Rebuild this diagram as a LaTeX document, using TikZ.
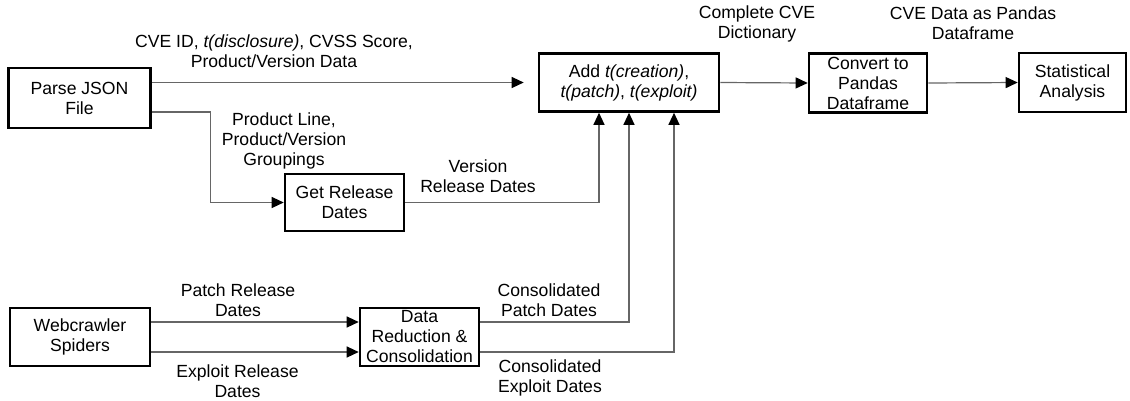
\documentclass[tikz,border=0pt]{standalone}
\usepackage{fontspec}
\setmainfont{Liberation Sans}
\usetikzlibrary{arrows.meta}

\begin{document}
\begin{tikzpicture}[x=1pt,y=-1pt,
    every node/.style={font=\fontsize{17.6}{20}\selectfont,align=center,inner sep=0pt},
    box/.style={rectangle,draw,line width=2.6pt},
    flow/.style={draw=black!60,line width=1.2pt,-{Triangle[length=12pt,width=11pt,color=black]}}]
    \useasboundingbox (0,0) rectangle (1130,400);

    \node (parse) [box,minimum width=142pt,minimum height=60pt] at (79.5,98) {Parse JSON\\File};
    \node (add) [box,minimum width=180pt,minimum height=58pt] at (629,82.5) {Add \textit{t(creation)},\\\textit{t(patch)}, \textit{t(exploit)}};
    \node (conv) [box,minimum width=118pt,minimum height=59pt] at (868,83) {Convert to\\Pandas\\Dataframe};
    \node (stat) [box,minimum width=107pt,minimum height=59pt] at (1072.5,82.5) {Statistical\\Analysis};

    \node (getrel) [box,minimum width=119pt,minimum height=57pt] at (344.5,202.5) {Get Release\\Dates};

    \node (spider) [box,minimum width=140pt,minimum height=58pt] at (80,337) {Webcrawler\\Spiders};
    \node (datared) [box,minimum width=119pt,minimum height=58pt] at (419.5,337) {Data\\Reduction \&\\Consolidation};

    \node (lcve) at (274,51.5) {CVE ID, \textit{t(disclosure)}, CVSS Score,\\Product/Version Data};
    \node (lgroup) at (284,140.5) {Product Line,\\Product/Version\\Groupings};
    \node (lvers) at (478,176) {Version\\Release Dates};
    \node (ldict) at (757,23.5) {Complete CVE\\Dictionary};
    \node (lframe) at (973,23.5) {CVE Data as Pandas\\Dataframe};
    \node (lpatch) at (238,300) {Patch Release\\Dates};
    \node (lexpl) at (237.5,381) {Exploit Release\\Dates};
    \node (lcpatch) at (549,300) {Consolidated\\Patch Dates};
    \node (lcexpl) at (550,378) {Consolidated\\Exploit Dates};

  \draw[flow,shorten >=14pt] (parse.east |- add.west) -- (add.west);
  \draw[flow] ([yshift=-14pt]parse.east) -| ([xshift=-73pt]getrel.west) -- (getrel.west);
  \draw[flow] (getrel.east) -| ([xshift=-30pt]add.south);

  \draw[flow] ([yshift=15pt]spider.east) -- ([yshift=15pt]datared.west);
  \draw[flow] ([yshift=-15pt]spider.east) -- ([yshift=-15pt]datared.west);
  \draw[flow] ([yshift=15pt]datared.east) -| (add.south);
  \draw[flow] ([yshift=-15pt]datared.east) -| ([xshift=45pt]add.south);

  \draw[flow] (add.east) -- (conv.west);
  \draw[flow] (conv.east) -- (stat.west);
\end{tikzpicture}
\end{document}
